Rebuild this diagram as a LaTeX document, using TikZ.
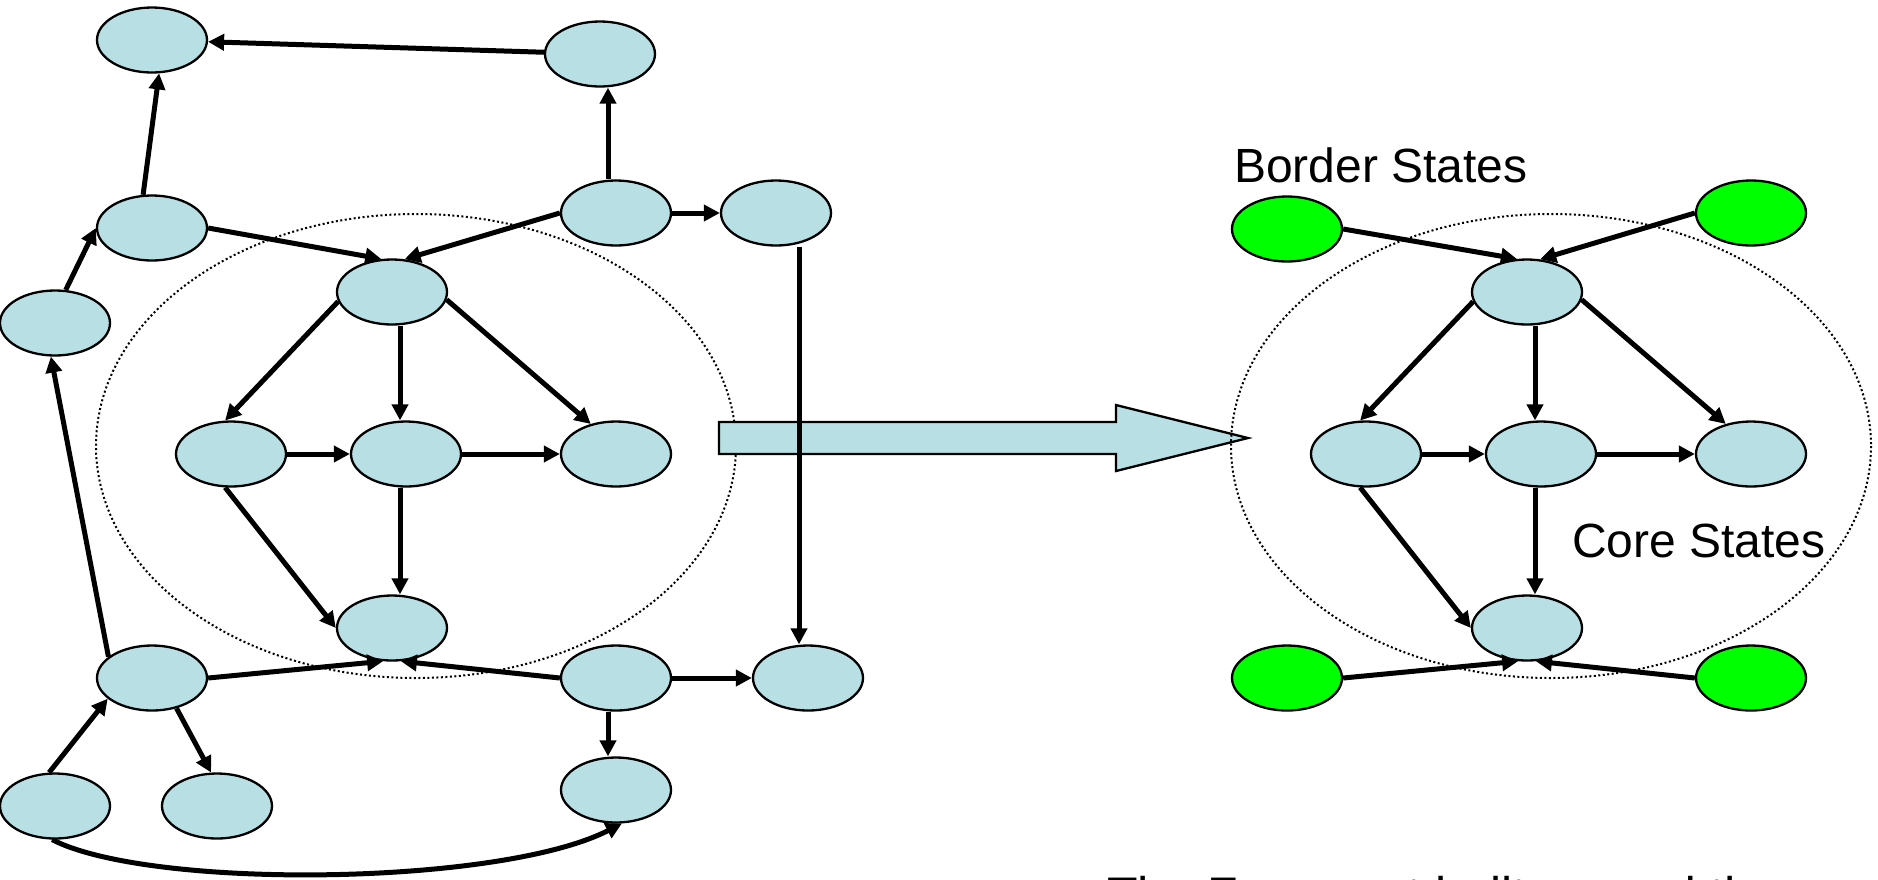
\documentclass[tikz,border=0pt]{standalone}
\usepackage{fontspec}
\setmainfont{Liberation Sans}
\usetikzlibrary{arrows.meta,shapes.geometric}
\definecolor{nodeblue}{HTML}{B8DFE3}
\definecolor{bgreen}{HTML}{00FF00}
\begin{document}
\begin{tikzpicture}[x=1pt,y=-1pt,
  cstate/.style={ellipse, draw=black, line width=2.3pt, fill=nodeblue, minimum width=110pt, minimum height=65pt, inner sep=0pt},
  bstate/.style={cstate, fill=bgreen},
  conn/.style={line width=5pt, -{Triangle[length=16pt,width=16pt]}},
  cluster/.style={draw=black, line width=2pt, dash pattern=on 2pt off 2.5pt},
  txt/.style={font=\fontsize{48}{56}\selectfont, anchor=base west, inner sep=0pt}
]
\useasboundingbox (0,0) rectangle (1878,879);

% clusters and big arrow
\draw[cluster] (416,446) ellipse [x radius=320, y radius=232];
\draw[fill=nodeblue, line width=2.3pt, line join=miter]
  (719,422) -- (1116,422) -- (1116,405) -- (1248,438) -- (1116,471) -- (1116,454) -- (719,454) -- cycle;
\draw[cluster] (1551,446) ellipse [x radius=320, y radius=232];

% left graph
\node[cstate] (n1) at (152,40) {};
\node[cstate] (n2) at (600,54) {};
\node[cstate] (n3) at (152,228) {};
\node[cstate] (n4) at (616,213) {};
\node[cstate] (n5) at (776,213) {};
\node[cstate] (n6) at (55,323) {};
\node[cstate] (n7) at (392,292) {};
\node[cstate] (n8) at (231,454) {};
\node[cstate] (n9) at (406,454) {};
\node[cstate] (n10) at (616,454) {};
\node[cstate] (n11) at (392,628) {};
\node[cstate] (n12) at (152,678) {};
\node[cstate] (n13) at (616,678) {};
\node[cstate] (n14) at (808,678) {};
\node[cstate] (n15) at (55,806) {};
\node[cstate] (n16) at (217,806) {};
\node[cstate] (n17) at (616,790) {};

\coordinate (va) at (608,0);
\coordinate (vb) at (400,0);
\coordinate (vc) at (799,0);
\coordinate (vd) at (1535,0);

% right graph
\node[bstate] (g1) at (1287,229) {};
\node[bstate] (g2) at (1751,213) {};
\node[cstate] (r1) at (1527,292) {};
\node[cstate] (r2) at (1366,454) {};
\node[cstate] (r3) at (1541,454) {};
\node[cstate] (r4) at (1751,454) {};
\node[cstate] (r5) at (1527,628) {};
\node[bstate] (g3) at (1287,678) {};
\node[bstate] (g4) at (1751,678) {};

% left edges
\draw[conn] (n2) -- (n1);
\draw[conn] (n3.105) -- (n1.-78);
\draw[conn] (n4.north -| va) -- (n2.south -| va);
\draw[conn] (n6.72) -- (n3.west);
\draw[conn] (n3.east) -- (n7.108);
\draw[conn] (n4.west) -- (n7.69);
\draw[conn] (n4) -- (n5);
\draw[conn] (n5.south -| vc) -- (n14.north -| vc);
\draw[conn] (n7.190) -- (n8.100);
\draw[conn] (n7.south -| vb) -- (n9.north -| vb);
\draw[conn] (n7.-8) -- (n10.130);
\draw[conn] (n8) -- (n9);
\draw[conn] (n9) -- (n10);
\draw[conn] (n8.-100) -- (n11.west);
\draw[conn] (n9.south -| vb) -- (n11.north -| vb);
\draw[conn] (n12.east) -- (n11.-105);
\draw[conn] (n13.west) -- (n11.-75);
\draw[conn] (n12.154) -- (n6.-97);
\draw[conn] (n13) -- (n14);
\draw[conn] (n13.south -| va) -- (n17.north -| va);
\draw[conn] (n15.100) -- (n12.-155);
\draw[conn] (n12.-51) -- (n16.100);
\draw[conn] (n15.-95) .. controls (150,890) and (500,886) .. (n17.-80);

% right edges
\draw[conn] (g1.east) -- (r1.107);
\draw[conn] (g2.west) -- (r1.68);
\draw[conn] (r1.190) -- (r2.100);
\draw[conn] (r1.south -| vd) -- (r3.north -| vd);
\draw[conn] (r1.-8) -- (r4.130);
\draw[conn] (r2) -- (r3);
\draw[conn] (r3) -- (r4);
\draw[conn] (r2.-100) -- (r5.west);
\draw[conn] (r3.south -| vd) -- (r5.north -| vd);
\draw[conn] (g3.east) -- (r5.-105);
\draw[conn] (g4.west) -- (r5.-75);

% labels
\node[txt] (bs) at (1234,182) {Border States};
\node[txt] (cs) at (1572,557) {Core States};
\node[txt, font=\fontsize{50}{60}\selectfont] (ft) at (1107,912) {The Fragment built around the};
\end{tikzpicture}
\end{document}
